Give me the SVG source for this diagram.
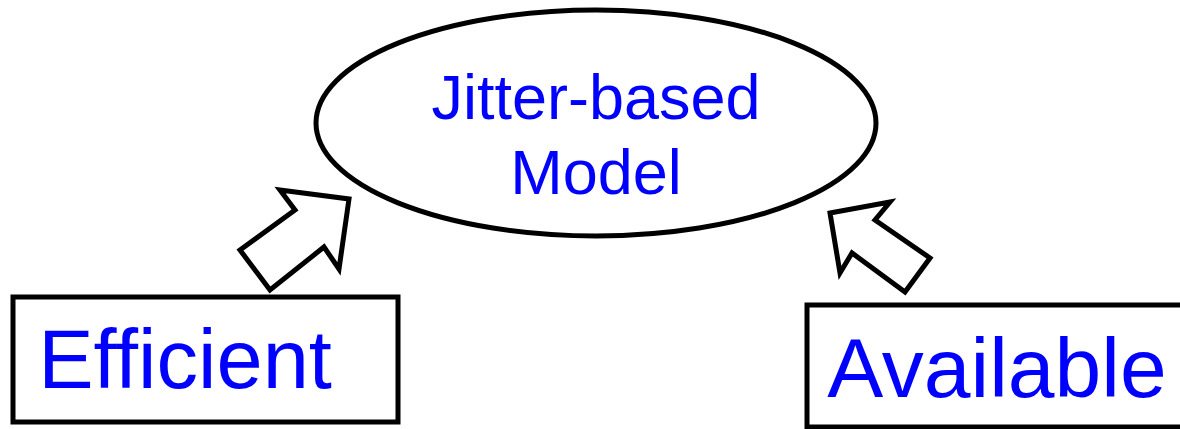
<svg xmlns="http://www.w3.org/2000/svg" width="1180" height="429" viewBox="0 0 1180 429">
<style>
.shape{fill:#fff;stroke:#000;stroke-width:5;stroke-linejoin:miter}
.lbl{font-family:"Liberation Sans",Arial,sans-serif;fill:#0000ff;text-anchor:middle}
</style>
<rect width="1180" height="429" fill="#fff"/>
<g id="model">
<ellipse class="shape" cx="596" cy="123" rx="280" ry="113"/>
<text class="lbl" x="596" y="119" font-size="63">Jitter-based</text>
<text class="lbl" x="596" y="194" font-size="63">Model</text>
</g>
<g id="efficient">
<rect class="shape" x="13" y="297" width="385" height="125"/>
<text class="lbl" x="185" y="388" font-size="83">Efficient</text>
</g>
<g id="available">
<rect class="shape" x="807" y="305" width="400" height="122"/>
<text class="lbl" x="997" y="397" font-size="84">Available</text>
</g>
<g id="connectors">
<polygon class="shape" points="240,250 295,210 280,190 349,199 339,269 324,247 270,290"/>
<polygon class="shape" points="830,213 890,202 875,220 930,258 905,292 852,253 840,273"/>
</g>
</svg>
